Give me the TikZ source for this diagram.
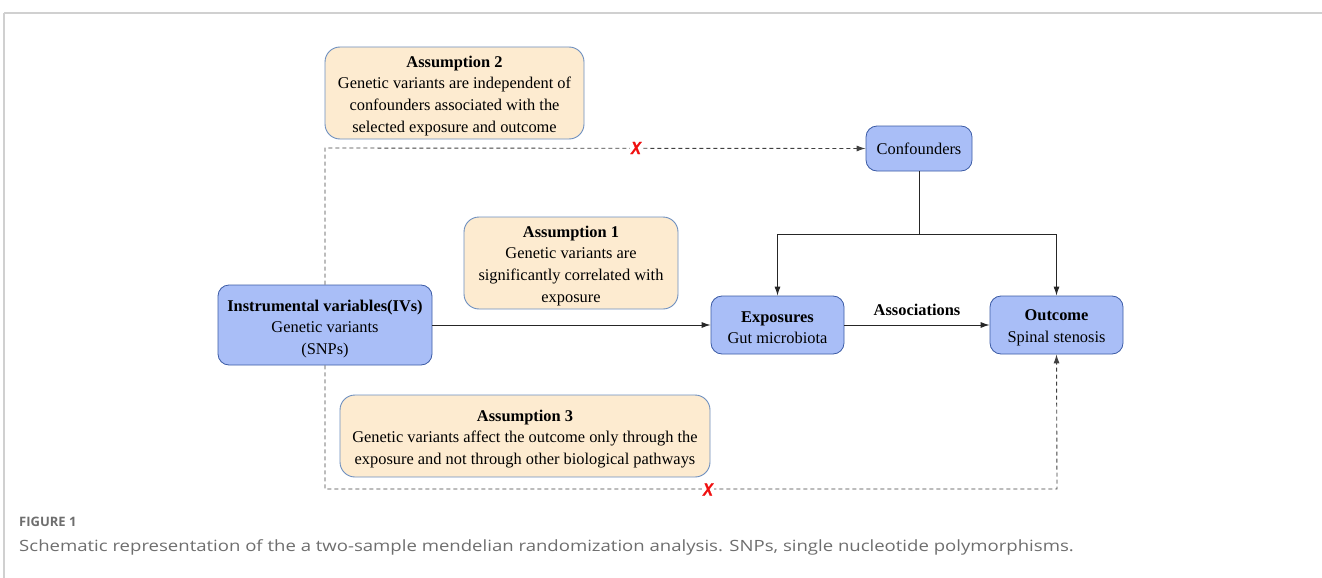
\documentclass[tikz,border=0pt]{standalone}
\usepackage{fontspec}
\setmainfont{Liberation Serif}
\newfontfamily\capfont{Open Sans}
\newfontfamily\xfont[BoldItalicFeatures={FakeBold=1.2}]{Liberation Sans}
\usetikzlibrary{arrows.meta}
\definecolor{creamfill}{HTML}{FDEBD0}
\definecolor{creamline}{HTML}{6C8EBF}
\definecolor{bluefill}{HTML}{A9BEF7}
\definecolor{blueline}{HTML}{3B5BA5}
\definecolor{framegray}{HTML}{D0D0D0}
\definecolor{capgray}{HTML}{6E6E6E}
\definecolor{xred}{HTML}{F01010}
\newcommand\dn{\rule{0pt}{17pt}}
\tikzset{
  assum/.style={draw=creamline, fill=creamfill, rounded corners=15pt, line width=0.9pt,
    align=center, font=\fontsize{16.4}{21.7}\selectfont, inner sep=0pt},
  bluebox/.style={draw=blueline, fill=bluefill, rounded corners=11pt, line width=0.8pt,
    align=center, font=\fontsize{16.4}{21.7}\selectfont, inner sep=0pt},
  solidarrow/.style={draw=black!85, line width=0.9pt, -{Latex[length=9pt,width=6pt]}},
  solidline/.style={draw=black!85, line width=0.9pt},
  dasharrow/.style={draw=black!75, line width=0.9pt, dash pattern=on 4pt off 3pt, -{Latex[length=9pt,width=6pt]}},
  xmark/.style={text=xred, font=\xfont\bfseries\itshape\fontsize{17.5}{17.5}\selectfont, inner sep=0pt, xscale=0.85},
}
\begin{document}
\begin{tikzpicture}[x=1pt,y=-1pt]
\useasboundingbox (0,0) rectangle (1322,578);
% frame
\draw[framegray, line width=1.2pt] (4,13) -- (1322,13);
\draw[framegray, line width=1.2pt] (4,13) -- (4,578);

% nodes
\node[assum, minimum width=259pt, minimum height=92pt] (a2) at (454.5,93)
  {\dn\textbf{Assumption 2}\\Genetic variants are independent of\\confounders associated with the\\selected exposure and outcome};
\node[assum, minimum width=214pt, minimum height=92pt] (a1) at (571,263)
  {\dn\textbf{Assumption 1}\\Genetic variants are\\significantly correlated with\\exposure};
\node[assum, minimum width=370pt, minimum height=82pt] (a3) at (525,436)
  {\dn\textbf{Assumption 3}\\Genetic variants affect the outcome only through the\\exposure and not through other biological pathways};

\node[bluebox, minimum width=214pt, minimum height=80pt] (iv) at (325,325)
  {\rule{0pt}{19pt}\textbf{Instrumental variables(IVs)}\\Genetic variants\\(SNPs)};
\node[bluebox, minimum width=106pt, minimum height=45pt] (conf) at (919,148.5) {\rule{0pt}{13pt}Confounders};
\node[bluebox, minimum width=133pt, minimum height=58pt] (exp) at (777.5,325)
  {\rule{0pt}{16pt}\textbf{Exposures}\\Gut microbiota};
\node[bluebox, minimum width=133pt, minimum height=58pt] (out) at (1056.5,325)
  {\rule{0pt}{16pt}\textbf{Outcome}\\Spinal stenosis};

% solid connectors
\draw[solidarrow] (iv.east) -- (exp.west);
\draw[solidarrow] (exp.east) -- node[above=6pt, font=\fontsize{16.4}{18}\selectfont\bfseries] (assoc) {Associations} (out.west);
\coordinate (split) at (919,234);
\draw[solidline] (conf.south) -- (split);
\draw[solidarrow] (split) -| (exp.north);
\draw[solidarrow] (split) -| (out.north);

% dashed connectors
\coordinate (tl) at (325,148);
\coordinate (bl) at (325,489);
\coordinate (br) at (1057,489);
\draw[dasharrow] (iv.north) -- (tl) -- (conf.west);
\draw[dasharrow] (iv.south) -- (bl) -- (br) -- (out.south);

\node[xmark, fill=white, inner xsep=1pt] (x1) at (636,148) {X};
\node[xmark, fill=white, inner xsep=1pt] (x2) at (708,489.5) {X};

% caption
\node[anchor=west, text=capgray, font=\capfont\bfseries\fontsize{13}{14}\selectfont, inner sep=0pt] (fig) at (19,522) {FIGURE 1};
\node[anchor=west, text=capgray, font=\capfont\fontsize{15.5}{18}\selectfont, inner sep=0pt, xscale=1.197] (cap) at (19,547)
  {Schematic representation of the a two-sample mendelian randomization analysis. SNPs, single nucleotide polymorphisms.};
\end{tikzpicture}
\end{document}
